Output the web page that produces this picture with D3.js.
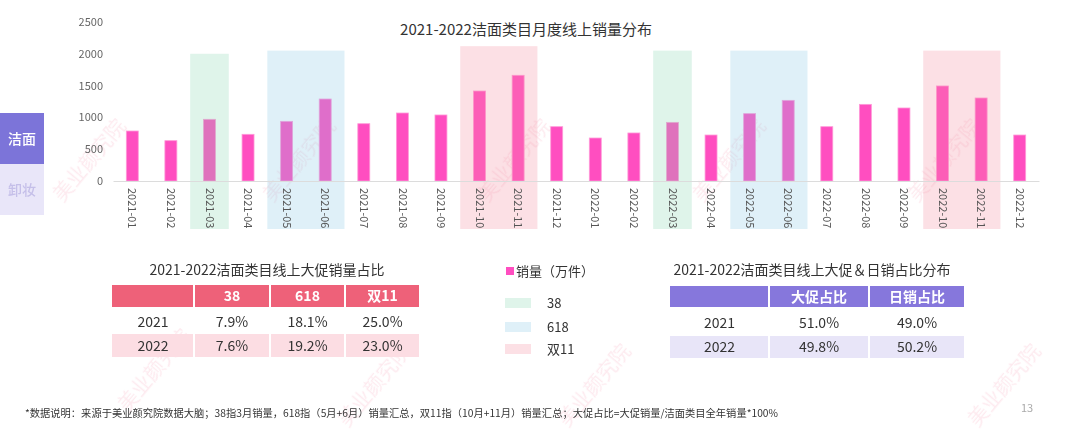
<!DOCTYPE html>
<html><head><meta charset="utf-8">
<script src="https://cdn.jsdelivr.net/npm/d3@7"></script>
<style>
html,body{margin:0;padding:0;background:#fff;}
svg{display:block;font-family:"Noto Sans CJK SC","Noto Sans",sans-serif;}
</style></head>
<body>
<svg id="c" width="1080" height="438"></svg>
<script>
// ---- data ----
const months = ["2021-01","2021-02","2021-03","2021-04","2021-05","2021-06","2021-07","2021-08","2021-09","2021-10","2021-11","2021-12",
                "2022-01","2022-02","2022-03","2022-04","2022-05","2022-06","2022-07","2022-08","2022-09","2022-10","2022-11","2022-12"];
const sales = [786,634,970,734,938,1289,901,1069,1038,1415,1662,854,
               676,755,922,723,1059,1268,854,1205,1148,1494,1305,723];
const yTicks = [0,500,1000,1500,2000,2500];
const promoNames = ["38","618","双11"];
const promoMonths = [["2021-03"],["2021-05","2021-06"],["2021-10","2021-11"],
                     ["2022-03"],["2022-05","2022-06"],["2022-10","2022-11"]];
const promoOfSpan = ["38","618","双11","38","618","双11"];
const promoTop = [2000,2050,2120,2050,2050,2050];
const promoTableHead = ["","38","618","双11"];
const promoTableRows = [["2021","7.9%","18.1%","25.0%"],["2022","7.6%","19.2%","23.0%"]];
const dailyTableHead = ["","大促占比","日销占比"];
const dailyTableRows = [["2021","51.0%","49.0%"],["2022","49.8%","50.2%"]];
const tabs = ["洁面","卸妆"];

const svg = d3.select("#c");
const barColor = "#ff4ec0";
const promoColor = {"38":"#89d6b2","618":"#89c8e6","双11":"#f58d9f"};
const promoOpacity = 0.27;

// watermarks
const wm = svg.append("g").attr("opacity",0.12);
[[95,165],[305,165],[520,165],[735,165],[950,165],[160,375],[380,390],[600,390],[1010,390]].forEach(([x,y])=>{
  wm.append("text").attr("transform",`translate(${x},${y}) rotate(-50)`).attr("text-anchor","middle")
    .attr("font-size",20).attr("fill","#f0507a").text("美业颜究院");
});

// scales
const x = d3.scaleBand().domain(months).range([113,1039]).paddingInner(0.69).paddingOuter(0.345);
const y = d3.scaleLinear().domain([0,2500]).range([181,22]);
const step = x.step(), gap = (step - x.bandwidth())/2;

// title
svg.append("text").attr("x",526).attr("y",35).attr("text-anchor","middle")
  .attr("font-size",15).attr("fill","#333").attr("font-weight",400).text("2021-2022洁面类目月度线上销量分布");

// y axis labels
const yAxis = d3.axisLeft(y).tickValues(yTicks).tickFormat(d3.format("d")).tickSize(0).tickPadding(0);
const ya = svg.append("g").attr("transform","translate(103,0)").call(yAxis);
ya.select(".domain").remove();
ya.selectAll("text").attr("font-size",11).attr("fill","#666").attr("font-family","'Noto Sans CJK SC','Noto Sans',sans-serif");

// bars
svg.append("g").selectAll("rect").data(months).join("rect")
  .attr("x",d=>x(d)).attr("width",x.bandwidth())
  .attr("y",(d,i)=>y(sales[i])).attr("height",(d,i)=>y(0)-y(sales[i]))
  .attr("fill",barColor).attr("stroke","#ff9ad8").attr("stroke-width",0.8);

// promo overlays
svg.append("g").selectAll("rect").data(promoMonths).join("rect")
  .attr("x",d=>x(d[0])-gap)
  .attr("width",d=>x(d[d.length-1])+x.bandwidth()+gap-(x(d[0])-gap))
  .attr("y",(d,i)=>y(promoTop[i]))
  .attr("height",(d,i)=>229-y(promoTop[i]))
  .attr("fill",(d,i)=>promoColor[promoOfSpan[i]]).attr("opacity",promoOpacity);

// x axis
const xAxis = d3.axisBottom(x).tickSize(0).tickPadding(0);
const xa = svg.append("g").attr("transform","translate(0,181)").call(xAxis);
xa.select(".domain").attr("stroke","#dcdcdc");
xa.selectAll("text").attr("font-size",11).attr("fill","#555")
  .attr("font-family","'Noto Sans CJK SC','Noto Sans',sans-serif")
  .attr("text-anchor","start").attr("transform","translate(0,7) rotate(90)")
  .attr("x",0).attr("y",0).attr("dy","0.35em");

// left tabs
tabs.forEach((t,i)=>{
  svg.append("rect").attr("x",0).attr("y",113+i*51).attr("width",44).attr("height",51)
    .attr("fill",i===0?"#7c74d9":"#e9e6f9");
  svg.append("text").attr("x",22).attr("y",139+i*51).attr("dy","0.35em").attr("text-anchor","middle")
    .attr("font-size",14).attr("fill",i===0?"#fff":"#c5bfe9").attr("font-weight",500).text(t);
});

// tables
function drawTable(cols, rowsY, head, rows, headColor, altColor){
  const g = svg.append("g");
  const all = [head].concat(rows);
  all.forEach((r,ri)=>{
    const [y0,y1] = rowsY[ri];
    r.forEach((v,ci)=>{
      const fill = ri===0?headColor:(ri===2?altColor:null);
      if(fill) g.append("rect").attr("x",cols[ci]+(ci?1:0)).attr("y",y0)
        .attr("width",cols[ci+1]-cols[ci]-(ci?1:0)-1).attr("height",y1-y0).attr("fill",fill);
      g.append("text").attr("x",(cols[ci]+cols[ci+1])/2).attr("y",(y0+y1)/2).attr("dy","0.36em")
        .attr("text-anchor","middle").attr("font-size",14)
        .attr("fill",ri===0?"#fff":"#333").attr("font-weight",ri===0?700:400).text(v);
    });
  });
}
svg.append("text").attr("x",267).attr("y",275).attr("text-anchor","middle").attr("font-size",14)
  .attr("fill","#333").attr("font-weight",400).text("2021-2022洁面类目线上大促销量占比");
drawTable([112,194,270,345,420],[[285,307],[310,333],[334,357]],promoTableHead,promoTableRows,"#ee6179","#fcdde3");

svg.append("text").attr("x",812).attr("y",275).attr("text-anchor","middle").attr("font-size",14)
  .attr("fill","#333").attr("font-weight",400).text("2021-2022洁面类目线上大促＆日销占比分布");
drawTable([670,769,869,965],[[286,307],[311,335],[336,358]],dailyTableHead,dailyTableRows,"#8677dc","#e8e5f8");

// legend
svg.append("rect").attr("x",506).attr("y",267).attr("width",8).attr("height",8).attr("fill",barColor);
svg.append("text").attr("x",516).attr("y",271).attr("dy","0.35em").attr("font-size",13).attr("fill","#333").text("销量（万件）");
promoNames.forEach((p,i)=>{
  const yy = [298,322,344][i];
  svg.append("rect").attr("x",505).attr("y",yy).attr("width",26).attr("height",10)
    .attr("fill",promoColor[p]).attr("opacity",promoOpacity);
  svg.append("text").attr("x",547).attr("y",yy+5).attr("dy","0.35em").attr("font-size",13).attr("fill","#333").text(p);
});

// footer
svg.append("text").attr("x",25).attr("y",417).attr("font-size",10).attr("fill","#333")
  .attr("textLength",753).attr("lengthAdjust","spacingAndGlyphs")
  .text("*数据说明：来源于美业颜究院数据大脑；38指3月销量，618指（5月+6月）销量汇总，双11指（10月+11月）销量汇总；大促占比=大促销量/洁面类目全年销量*100%");
svg.append("text").attr("x",1027).attr("y",412).attr("text-anchor","middle").attr("font-size",11).attr("fill","#aaa").text("13");
</script>
</body></html>
